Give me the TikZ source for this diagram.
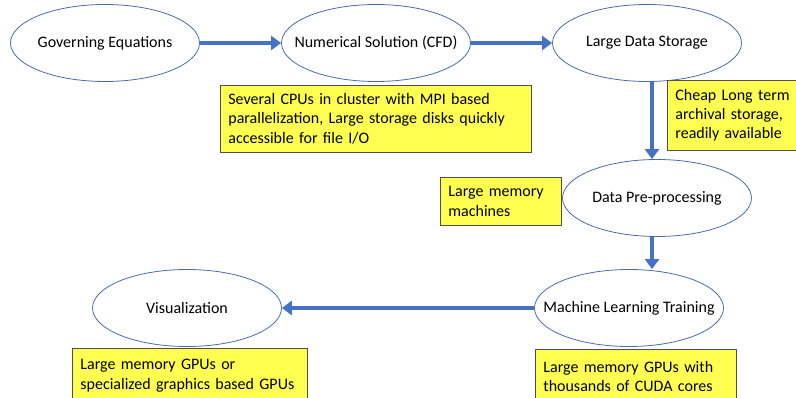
\documentclass[tikz,border=0pt]{standalone}
\usepackage{fontspec}
\setmainfont{Carlito}
\usetikzlibrary{shapes.geometric,arrows.meta}
\definecolor{flowblue}{HTML}{4472C4}
\definecolor{ringblue}{HTML}{4A6BA8}
\definecolor{noteyellow}{HTML}{FFFF52}
\definecolor{noteedge}{HTML}{505050}
\begin{document}
\begin{tikzpicture}[x=0.75pt,y=-0.75pt,
  stage/.style={ellipse, draw=ringblue, line width=0.6pt, inner xsep=-18pt, minimum width=141.75pt, minimum height=57.75pt, font=\fontsize{12pt}{14pt}\selectfont},
  note/.style={draw=noteedge, line width=0.6pt, fill=noteyellow, align=left, inner xsep=6pt, anchor=north west, font=\fontsize{12pt}{14.5pt}\selectfont},
  flow/.style={draw=flowblue, line width=3pt, -{Triangle[length=7.5pt,width=10.5pt]}}]
\useasboundingbox (0,0) rectangle (796,398);
\node[stage] (ge) at (105,43) {Governing Equations};
\node[stage] (num) at (376,43) {Numerical Solution (CFD)};
\node[stage] (ds) at (647,43) {Large Data Storage};
\node[stage] (pre) at (657,198) {Data Pre-processing};
\node[stage] (ml) at (629,308) {Machine Learning Training};
\node[stage] (vis) at (187,308) {Visualization};
\coordinate (v) at (652,0);
\node[note, text width=221pt, minimum height=50pt] (cpu) at (220,85) {Several CPUs in cluster with MPI based\\parallelization, Large storage disks quickly\\accessible for file I/O};
\node[note, text width=100pt, minimum height=52.5pt] (arch) at (667,80) {Cheap Long term\\archival storage,\\readily available};
\node[note, text width=79pt, minimum height=36pt] (mach) at (440,177) {Large memory\\machines};
\node[note, text width=164pt, minimum height=41pt] (gfx) at (72,348) {Large memory GPUs or\\specialized graphics based GPUs};
\node[note, text width=139pt, minimum height=41pt] (cuda) at (535,349) {Large memory GPUs with\\thousands of CUDA cores};
\draw[flow] (ge) -- (num);
\draw[flow] (num) -- (ds);
\draw[flow] (v |- ds.south) -- (v |- pre.north);
\draw[flow] (v |- pre.south) -- (v |- ml.north);
\draw[flow] (ml) -- (vis);
\end{tikzpicture}
\end{document}
